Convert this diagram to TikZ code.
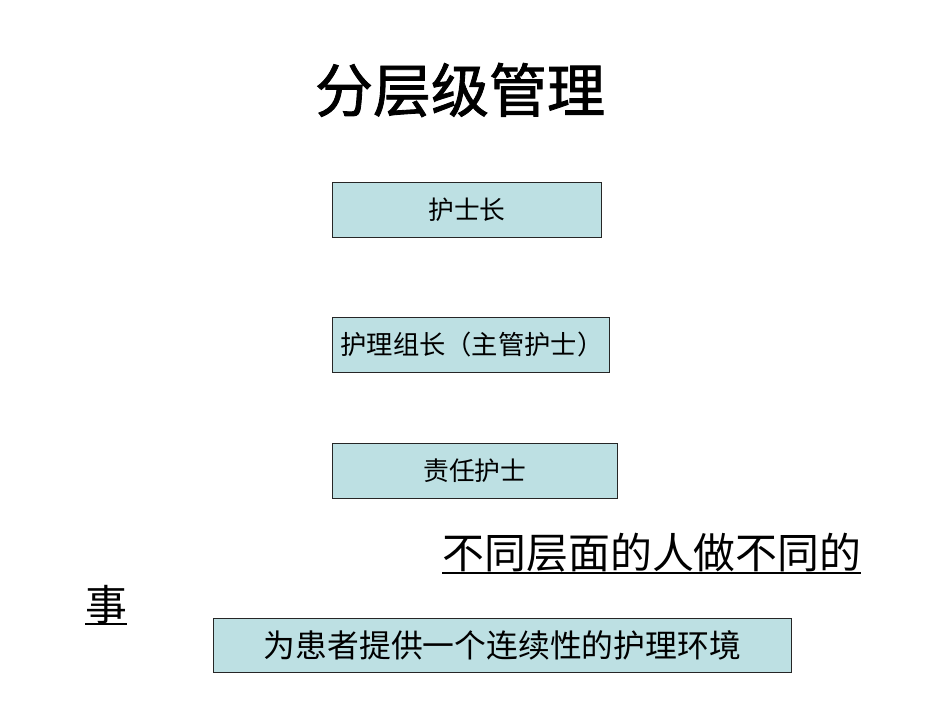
\documentclass[tikz,border=0pt]{standalone}
\usepackage{fontspec}
\newfontfamily\cjk{Noto Sans CJK SC}
\newfontfamily\cjkb{Noto Sans CJK SC}[FakeBold=1.5]
\definecolor{boxfill}{RGB}{189,224,227}
\begin{document}
\begin{tikzpicture}[x=1pt,y=-1pt,
  box/.style={draw=black!85, line width=0.8pt, fill=boxfill, anchor=north west, inner sep=0pt, font=\cjk},
  plain/.style={inner sep=0pt, font=\cjk}]
\useasboundingbox (0,0) rectangle (950,713);
\node[plain, font=\cjkb\fontsize{58}{62}\selectfont] (title) at (460,90) {分层级管理};
\node[box, minimum width=269pt, minimum height=55pt, font=\cjk\fontsize{25.7}{28}\selectfont] (b1) at (332,182) {护士长};
\node[box, minimum height=55pt, inner xsep=8pt, text width=261pt, align=left, font=\cjk\fontsize{26.3}{28}\selectfont] (b2) at (332,317) {护理组长（主管护士）};
\node[box, minimum width=285pt, minimum height=55pt, font=\cjk\fontsize{25.8}{28}\selectfont] (b3) at (332,443) {责任护士};
\node[plain, font=\cjk\fontsize{41.9}{44}\selectfont] (t1) at (652,553) {不同层面的人做不同的};
\node[plain, font=\cjk\fontsize{41.9}{44}\selectfont] (t2) at (106,605) {事};
\draw[line width=1.4pt] (442,573) -- (861,573);
\draw[line width=1.4pt] (85,624) -- (127,624);
\node[box, minimum width=578pt, minimum height=54pt, font=\cjk\fontsize{31.8}{34}\selectfont] (b4) at (213,618) {为患者提供一个连续性的护理环境};
\end{tikzpicture}
\end{document}
